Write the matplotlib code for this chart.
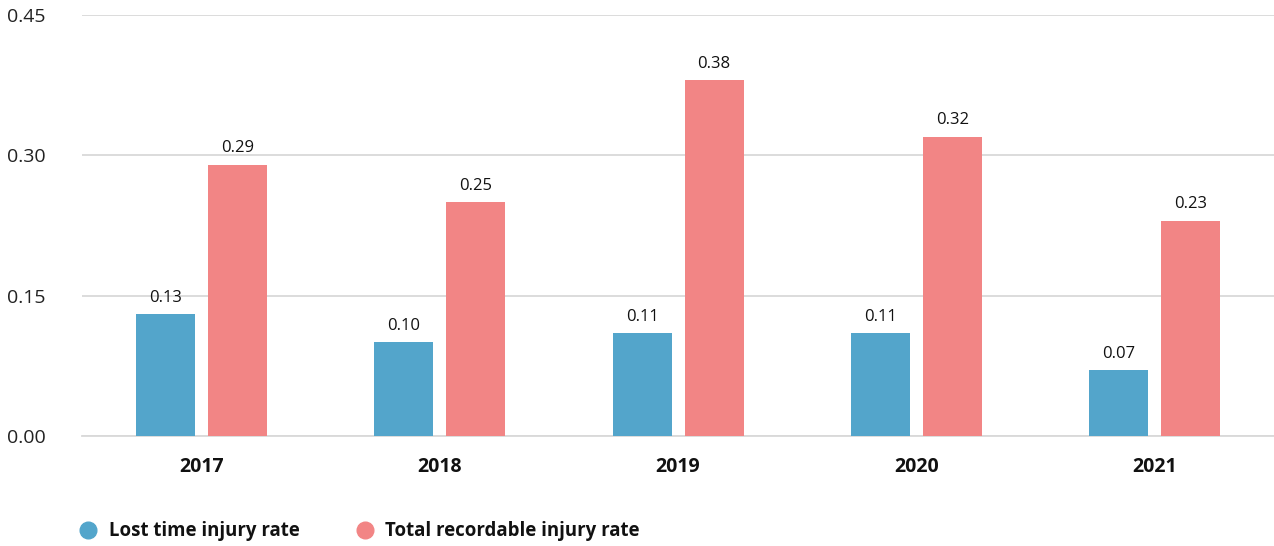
import matplotlib
matplotlib.use("Agg")
import matplotlib.pyplot as plt
from matplotlib.lines import Line2D
import numpy as np

# ---------- data ----------
years = ["2017", "2018", "2019", "2020", "2021"]
ltir = [0.13, 0.10, 0.11, 0.11, 0.07]
trir = [0.29, 0.25, 0.38, 0.32, 0.23]
series_names = ["Lost time injury rate", "Total recordable injury rate"]
y_ticks = [0.00, 0.15, 0.30, 0.45]

BLUE = "#53a5cb"
RED = "#f28585"
GRID = "#d9d9d9"

plt.rcParams["font.family"] = ["Open Sans", "DejaVu Sans"]

fig = plt.figure(figsize=(12.74, 5.46), dpi=100)
ax = fig.add_axes([0.0644, 0.2015, 0.9356, 0.771])

x = np.arange(len(years))
w = 0.2475
off = 0.151
b1 = ax.bar(x - off, ltir, w, color=BLUE, zorder=3)
b2 = ax.bar(x + off, trir, w, color=RED, zorder=3)

# value labels above bars
for bars, vals in ((b1, ltir), (b2, trir)):
    for b, v in zip(bars, vals):
        ax.annotate(f"{v:.2f}", (b.get_x() + b.get_width() / 2, v),
                    xytext=(0, 6), textcoords="offset points",
                    ha="center", va="bottom", fontsize=12, color="#111111")

ax.set_xlim(-0.5, len(years) - 0.5)
ax.set_ylim(0, 0.45)
ax.set_yticks(y_ticks)
ax.set_yticklabels([f"{t:.2f}" for t in y_ticks], fontsize=14, color="#222222")
ax.set_xticks(x)
ax.set_xticklabels(years, fontsize=14, fontweight="bold", color="#111111")
ax.tick_params(axis="y", length=0, pad=26)
ax.tick_params(axis="x", length=0, pad=15)
ax.yaxis.grid(True, color=GRID, linewidth=1.3, zorder=0)
for s in ("top", "right", "left"):
    ax.spines[s].set_visible(False)
ax.spines["bottom"].set_color(GRID)
ax.spines["bottom"].set_linewidth(1.3)

# legend
handles = [Line2D([], [], marker="o", linestyle="", markersize=12, color=c)
           for c in (BLUE, RED)]
leg = fig.legend(handles, series_names, loc="center left",
                 bbox_to_anchor=(0.049, 0.027), ncol=2, frameon=False,
                 handletextpad=0.6, columnspacing=3.0, handlelength=1.0,
                 prop={"size": 13.4, "weight": "bold"})
for t in leg.get_texts():
    t.set_color("#111111")

fig.savefig("out.png", dpi=100)
